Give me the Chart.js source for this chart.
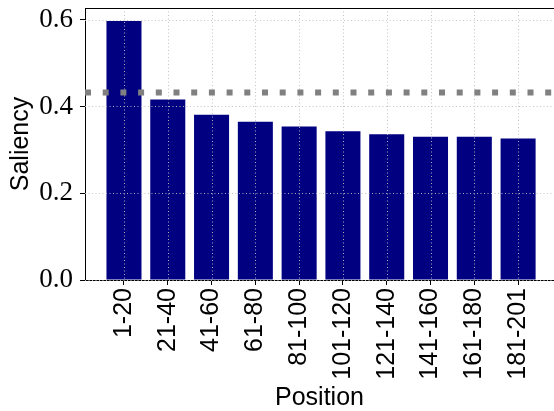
<!DOCTYPE html>
<html>
<head>
<meta charset="utf-8">
<script src="https://cdn.jsdelivr.net/npm/chart.js@4"></script>
<style>
  html, body { margin: 0; padding: 0; background: #fff; overflow: hidden; }
  #chartBox { width: 554px; height: 411px; }
</style>
</head>
<body>
<div id="chartBox"><canvas id="saliencyChart" width="554" height="411"></canvas></div>
<script>
const positions = ["1-20", "21-40", "41-60", "61-80", "81-100", "101-120", "121-140", "141-160", "161-180", "181-201"];
const saliency = [0.597, 0.416, 0.381, 0.365, 0.354, 0.343, 0.336, 0.330, 0.330, 0.326];
const baseline = 0.432;
const yTicks = [0.0, 0.2, 0.4, 0.6];
const xLimits = [-0.89, 9.82];
const yLimits = [0, 0.627];

const barPoints = saliency.map((v, i) => ({x: i, y: v}));
const baselinePoints = xLimits.map(x => ({x: x, y: baseline}));

// dotted grid drawn over the bars, like matplotlib's grid
const gridOnTop = {
  id: 'gridOnTop',
  afterDatasetDraw(chart, args) {
    if (args.meta.type !== 'bar') return;
    const {ctx, chartArea, scales} = chart;
    ctx.save();
    ctx.strokeStyle = 'rgba(190,190,190,0.9)';
    ctx.lineWidth = 1;
    ctx.setLineDash([1, 2.5]);
    scales.x.ticks.forEach(t => {
      const px = Math.round(scales.x.getPixelForValue(t.value)) + 0.5;
      ctx.beginPath();
      ctx.moveTo(px, chartArea.top);
      ctx.lineTo(px, chartArea.bottom);
      ctx.stroke();
    });
    scales.y.ticks.forEach(t => {
      const py = Math.round(scales.y.getPixelForValue(t.value)) + 0.5;
      ctx.beginPath();
      ctx.moveTo(chartArea.left, py);
      ctx.lineTo(chartArea.right, py);
      ctx.stroke();
    });
    ctx.restore();
  },
  afterDraw(chart) {
    const {ctx, chartArea} = chart;
    ctx.save();
    ctx.strokeStyle = '#000';
    ctx.lineWidth = 1;
    ctx.beginPath();
    ctx.moveTo(chartArea.left, chartArea.top + 0.5);
    ctx.lineTo(chartArea.right, chartArea.top + 0.5);
    ctx.stroke();
    ctx.restore();
  }
};

const ctx = document.getElementById('saliencyChart');

new Chart(ctx, {
  type: 'bar',
  data: {
    datasets: [
      {
        type: 'line',
        data: baselinePoints,
        borderColor: '#808080',
        borderWidth: 6,
        borderDash: [6, 11.7],
        borderCapStyle: 'butt',
        pointRadius: 0,
        fill: false,
        order: 0
      },
      {
        type: 'bar',
        data: barPoints,
        backgroundColor: '#000080',
        borderWidth: 0,
        barPercentage: 0.8,
        categoryPercentage: 1,
        order: 1
      }
    ]
  },
  options: {
    responsive: false,
    animation: false,
    layout: { padding: { top: 8, right: 0, left: 0, bottom: 0 } },
    plugins: {
      legend: { display: false },
      tooltip: { enabled: false }
    },
    scales: {
      x: {
        type: 'linear',
        offset: false,
        min: xLimits[0],
        max: xLimits[1],
        afterBuildTicks: scale => { scale.ticks = positions.map((p, i) => ({value: i})); },
        afterFit: scale => {
          scale.height = 131;
          scale.paddingLeft = 0;
          scale.paddingRight = 0;
        },
        grid: {
          offset: false,
          drawOnChartArea: false,
          drawTicks: true,
          tickLength: 5,
          tickColor: '#000',
          tickBorderDash: []
        },
        border: { display: true, color: '#000', width: 1 },
        ticks: {
          minRotation: 90,
          maxRotation: 90,
          autoSkip: false,
          padding: 3,
          color: '#000',
          font: { family: 'Liberation Sans', size: 25 },
          callback: value => positions[value]
        },
        title: {
          display: true,
          text: 'Position',
          color: '#000',
          padding: 0,
          font: { family: 'Liberation Sans', size: 25, lineHeight: 1 }
        }
      },
      y: {
        min: yLimits[0],
        max: yLimits[1],
        afterBuildTicks: scale => { scale.ticks = yTicks.map(v => ({value: v})); },
        afterFit: scale => {
          scale.width = 85;
          scale.paddingTop = 0;
          scale.paddingBottom = 0;
        },
        grid: {
          drawOnChartArea: false,
          drawTicks: true,
          tickLength: 5,
          tickColor: '#000',
          tickBorderDash: []
        },
        border: { display: true, color: '#000', width: 1 },
        ticks: {
          padding: 7,
          color: '#000',
          font: { family: 'Liberation Serif', size: 27 },
          callback: value => value.toFixed(1)
        },
        title: {
          display: true,
          text: 'Saliency',
          color: '#000',
          padding: { top: 9, bottom: 0 },
          font: { family: 'Liberation Sans', size: 25, lineHeight: 1 }
        }
      }
    }
  },
  plugins: [gridOnTop]
});
</script>
</body>
</html>
